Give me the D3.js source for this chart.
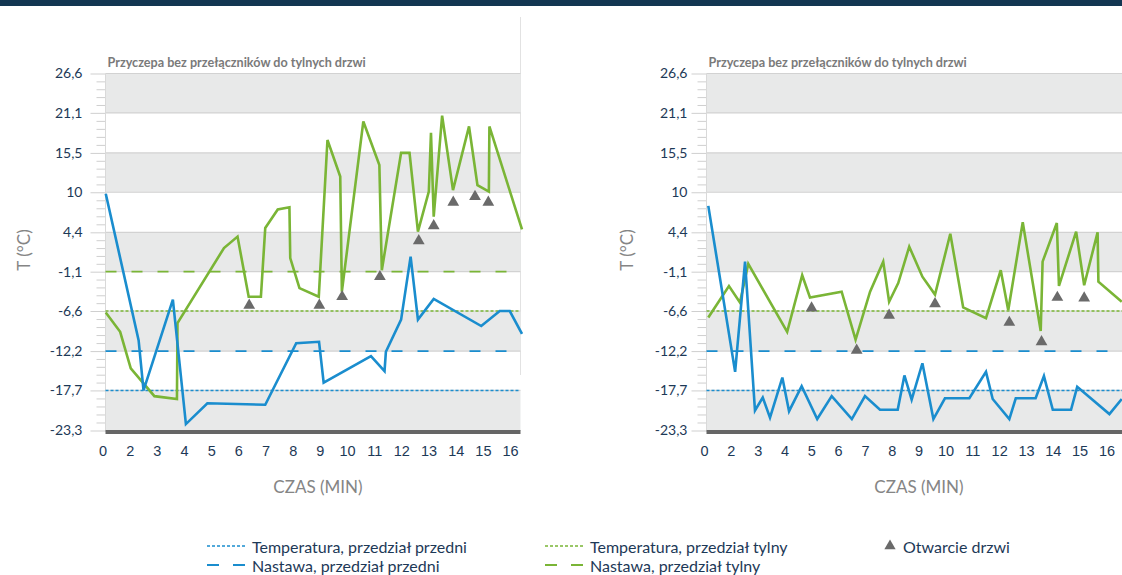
<!DOCTYPE html>
<html>
<head>
<meta charset="utf-8">
<script src="https://cdn.jsdelivr.net/npm/d3@7/dist/d3.min.js"></script>
<style>
  html, body { margin: 0; padding: 0; background: #fff; }
  svg { display: block; font-family: Lato, "Open Sans", sans-serif; }
  .tick text { fill: #1d3957; font-size: 14px; }
</style>
</head>
<body>
<svg id="chart" width="1122" height="575"></svg>
<script>
// time axis labels (minutes) and temperature ticks (°C)
var xTicks = [0, 2, 3, 4, 5, 6, 7, 8, 9, 10, 11, 12, 13, 14, 15, 16];
var yTicks = [26.6, 21.1, 15.5, 10, 4.4, -1.1, -6.6, -12.2, -17.7, -23.3];

var chartTitle = "Przyczepa bez przełączników do tylnych drzwi";

// left panel: [minutes, °C]
var leftRear = [
  [0.24, -6.8], [1.30, -9.5], [2.04, -14.6], [2.91, -18.5], [3.74, -18.9], [3.76, -8.3],
  [5.47, 2.2], [5.97, 3.8], [6.38, -4.6], [6.83, -4.6], [6.99, 5.0], [7.45, 7.6],
  [7.88, 7.9], [7.91, 0.8], [8.25, -3.4], [8.96, -4.6], [9.28, 17.3], [9.75, 12.2],
  [9.81, -3.9], [10.60, 19.9], [11.19, 13.8], [11.28, -0.9], [11.99, 15.5], [12.30, 15.5],
  [12.61, 4.5], [13.01, 10.1], [13.09, 18.3], [13.19, 6.6], [13.50, 20.7], [13.90, 10.3],
  [14.49, 19.2], [14.80, 11.0], [15.22, 10.1], [15.24, 19.2], [16.44, 4.8]
];
var leftFront = [
  [0.24, 9.8], [2.33, -10.7], [2.51, -17.7], [3.59, -5.0], [4.07, -22.4], [4.86, -19.5],
  [6.99, -19.7], [8.13, -11.1], [8.97, -10.9], [9.14, -16.6], [10.88, -12.9], [11.38, -15.0],
  [11.43, -12.3], [11.99, -7.8], [12.34, 1.0], [12.61, -7.8], [13.19, -4.9], [14.94, -8.7],
  [15.62, -6.6], [15.99, -6.6], [16.44, -9.8]
];
var leftDoors = [
  [6.40, -5.8], [8.98, -5.8], [9.82, -4.6], [11.21, -1.8], [12.64, 3.2],
  [13.19, 5.3], [13.91, 8.6], [14.71, 9.4], [15.20, 8.6]
];
var leftFrontTemp = -17.7, leftFrontSet = -12.2, leftRearTemp = -6.6, leftRearSet = -1.1;

// right panel: [minutes, °C]
var rightRear = [
  [0.32, -7.5], [1.86, -3.1], [2.34, -5.4], [2.65, 0.0], [4.10, -9.5], [4.66, -1.6],
  [4.95, -4.7], [6.13, -3.9], [6.65, -10.6], [7.19, -3.9], [7.68, 0.3], [7.90, -5.3],
  [8.24, -2.7], [8.65, 2.4], [9.14, -1.8], [9.61, -4.3], [10.18, 4.2], [10.66, -6.1],
  [11.51, -7.6], [12.06, -0.9], [12.34, -6.5], [12.88, 5.8], [13.55, -9.4], [13.62, 0.3],
  [14.15, 5.7], [14.23, -3.1], [14.87, 4.5], [15.17, -3.0], [15.67, 4.4], [15.70, -2.5],
  [16.57, -5.3]
];
var rightFront = [
  [0.32, 8.1], [2.16, -15.1], [2.53, 0.3], [2.90, -20.5], [3.19, -18.7], [3.46, -21.5],
  [3.92, -15.9], [4.17, -20.6], [4.64, -17.1], [5.22, -21.7], [5.76, -18.5], [6.51, -21.7],
  [7.00, -18.5], [7.56, -20.4], [8.22, -20.4], [8.47, -15.6], [8.74, -19.0], [9.14, -13.9],
  [9.55, -21.7], [9.98, -18.8], [10.89, -18.8], [11.51, -15.1], [11.76, -18.9], [12.38, -21.7],
  [12.62, -18.8], [13.36, -18.8], [13.67, -15.7], [14.00, -20.4], [14.68, -20.4], [14.91, -17.2],
  [16.11, -21.0], [16.57, -18.9]
];
var rightDoors = [
  [5.01, -6.2], [6.69, -12.1], [7.90, -7.2], [9.61, -5.6],
  [12.38, -8.2], [13.58, -10.9], [14.17, -4.7], [15.17, -4.8]
];
var rightFrontTemp = -17.7, rightFrontSet = -12.2, rightRearTemp = -6.6;

var legendItems = [
  "Temperatura, przedział przedni", "Nastawa, przedział przedni",
  "Temperatura, przedział tylny", "Nastawa, przedział tylny", "Otwarcie drzwi"
];

var BLUE = "#1a8dce", GREEN = "#7ab536", TRI = "#6a6a6a", NAVY = "#1d3957";

var svg = d3.select("#chart");

// dark strip at the top
svg.append("rect").attr("x", 0).attr("y", 0).attr("width", 1122).attr("height", 6).attr("fill", "#133652");
// divider between the panels
svg.append("line").attr("x1", 520.5).attr("x2", 520.5).attr("y1", 17).attr("y2", 375)
  .attr("stroke", "#e2e2e2").attr("stroke-width", 1);

var y = d3.scaleLinear().domain([-23.3, 26.6]).range([430.5, 73.5]);

function drawPanel(p) {
  var g = svg.append("g");
  var x = d3.scaleLinear().domain(xTicks).range(xTicks.map(function (d, i) { return p.labelX0 + i * p.step; }));

  // alternating bands
  for (var i = 0; i < yTicks.length - 1; i++) {
    if (i % 2 === 0) {
      g.append("rect").attr("x", p.left).attr("width", p.right - p.left)
        .attr("y", y(yTicks[i])).attr("height", y(yTicks[i + 1]) - y(yTicks[i]))
        .attr("fill", "#e8e9e9");
    }
  }
  // grid lines
  g.selectAll(".grid").data(yTicks).enter().append("line")
    .attr("x1", p.left).attr("x2", p.right)
    .attr("y1", function (d) { return y(d); }).attr("y2", function (d) { return y(d); })
    .attr("stroke", "#d2d2d2").attr("stroke-width", 1.2);

  // minor ticks
  var minor = [];
  for (var j = 0; j < yTicks.length - 1; j++) {
    for (var k = 1; k < 5; k++) minor.push(yTicks[j] + (yTicks[j + 1] - yTicks[j]) * k / 5);
  }
  var yMinor = g.append("g").attr("transform", "translate(" + p.left + ",0)")
    .call(d3.axisLeft(y).tickValues(minor).tickSize(9).tickFormat(""));
  yMinor.select(".domain").remove();
  yMinor.selectAll("line").attr("stroke", "#cfcfcf");

  var yAx = g.append("g").attr("transform", "translate(" + p.left + ",0)")
    .call(d3.axisLeft(y).tickValues(yTicks).tickSize(15).tickPadding(p.pad)
      .tickFormat(function (d) { return String(d).replace(".", ","); }));
  yAx.select(".domain").remove();
  yAx.selectAll("line").attr("stroke", "#cfcfcf");
  yAx.selectAll("text").attr("font-family", "Lato, sans-serif");

  // left edge of plot
  g.append("line").attr("x1", p.left).attr("x2", p.left).attr("y1", y(26.6)).attr("y2", 432)
    .attr("stroke", "#d9d9d9").attr("stroke-width", 1);

  // bottom bar
  g.append("rect").attr("x", p.left).attr("y", 430).attr("width", p.right - p.left).attr("height", 4)
    .attr("fill", "#666");

  var xAx = g.append("g").attr("transform", "translate(0,434)")
    .call(d3.axisBottom(x).tickValues(xTicks).tickSize(0).tickPadding(12));
  xAx.select(".domain").remove();
  xAx.selectAll("text").style("font-size", "14.5px");

  // title
  g.append("text").attr("x", p.left + 2).attr("y", 67).text(chartTitle)
    .attr("font-size", 12.6).attr("font-weight", "bold").attr("fill", "#7a7a7a");

  // axis titles
  g.append("text").attr("transform", "translate(" + p.yTitleX + ",250) rotate(-90)")
    .attr("text-anchor", "middle").attr("dominant-baseline", "central")
    .attr("font-size", 17).attr("fill", "#858585").text("T (°C)");
  g.append("text").attr("x", p.xTitleX).attr("y", 493).attr("text-anchor", "middle")
    .attr("font-size", 17).attr("fill", "#858585").text("CZAS (MIN)");

  // reference lines
  p.refs.forEach(function (r) {
    g.append("line").attr("x1", p.left).attr("x2", p.right)
      .attr("y1", y(r.v)).attr("y2", y(r.v))
      .attr("stroke", r.c).attr("stroke-width", r.dash === "dot" ? 1.6 : 1.8)
      .attr("stroke-dasharray", r.dash === "dot" ? "3,2" : "11,15");
  });

  var line = d3.line().x(function (d) { return x(d[0]); }).y(function (d) { return y(d[1]); });
  g.append("path").datum(p.rear).attr("d", line).attr("fill", "none")
    .attr("stroke", GREEN).attr("stroke-width", 2.6);
  g.append("path").datum(p.front).attr("d", line).attr("fill", "none")
    .attr("stroke", BLUE).attr("stroke-width", 2.6);

  var tri = d3.symbol().type(d3.symbolTriangle).size(60);
  g.selectAll(".door").data(p.doors).enter().append("path")
    .attr("d", tri)
    .attr("transform", function (d) { return "translate(" + x(d[0]) + "," + y(d[1]) + ")"; })
    .attr("fill", TRI);
}

drawPanel({
  left: 105.5, right: 520.5, labelX0: 102.5, step: 27.17, pad: 8, yTitleX: 23, xTitleX: 318,
  rear: leftRear, front: leftFront, doors: leftDoors,
  refs: [
    { v: leftRearSet, c: GREEN, dash: "dash" },
    { v: leftRearTemp, c: GREEN, dash: "dot" },
    { v: leftFrontSet, c: BLUE, dash: "dash" },
    { v: leftFrontTemp, c: BLUE, dash: "dot" }
  ]
});
drawPanel({
  left: 706.5, right: 1122, labelX0: 704, step: 26.83, pad: 4, yTitleX: 626, xTitleX: 919,
  rear: rightRear, front: rightFront, doors: rightDoors,
  refs: [
    { v: rightRearTemp, c: GREEN, dash: "dot" },
    { v: rightFrontSet, c: BLUE, dash: "dash" },
    { v: rightFrontTemp, c: BLUE, dash: "dot" }
  ]
});

// legend
var lg = svg.append("g").attr("font-size", 16).attr("fill", NAVY);
function legendLine(x, yy, color, dash, label) {
  if (dash === "dot") {
    lg.append("line").attr("x1", x).attr("x2", x + 38).attr("y1", yy).attr("y2", yy)
      .attr("stroke", color).attr("stroke-width", 1.6).attr("stroke-dasharray", "3,2");
  } else {
    lg.append("line").attr("x1", x).attr("x2", x + 38).attr("y1", yy).attr("y2", yy)
      .attr("stroke", color).attr("stroke-width", 1.8).attr("stroke-dasharray", "12,14");
  }
  lg.append("text").attr("x", x + 45).attr("y", yy).attr("dominant-baseline", "central").text(label);
}
legendLine(207, 546, BLUE, "dot", legendItems[0]);
legendLine(207, 565, BLUE, "dash", legendItems[1]);
legendLine(545, 546, GREEN, "dot", legendItems[2]);
legendLine(545, 565, GREEN, "dash", legendItems[3]);
lg.append("path").attr("d", d3.symbol().type(d3.symbolTriangle).size(55))
  .attr("transform", "translate(890,546)").attr("fill", TRI);
lg.append("text").attr("x", 903).attr("y", 546).attr("dominant-baseline", "central").text(legendItems[4]);
</script>
</body>
</html>
